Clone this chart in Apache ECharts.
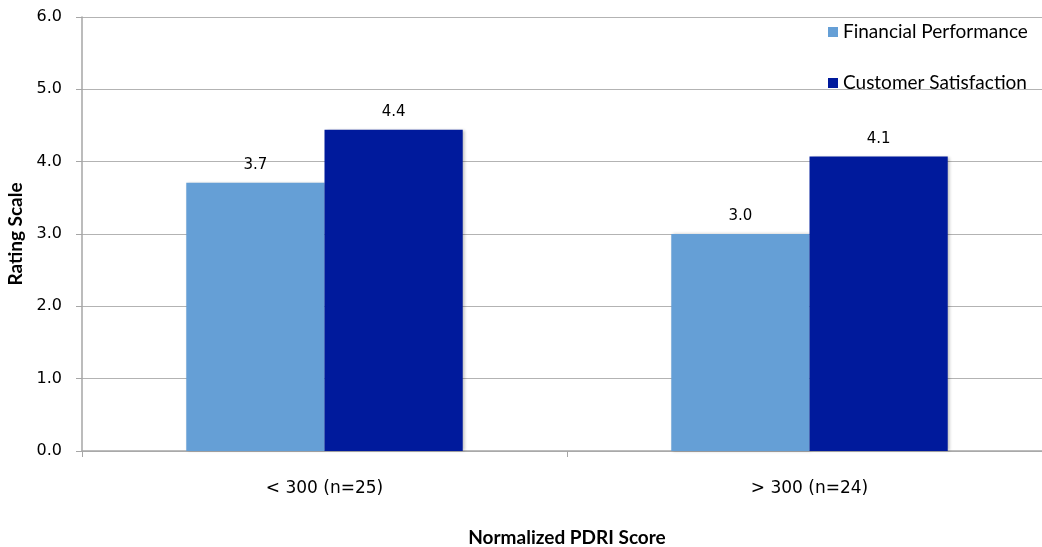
<!DOCTYPE html>
<html>
<head>
<meta charset="utf-8">
<script src="https://cdn.jsdelivr.net/npm/echarts@6/dist/echarts.min.js"></script>
<style>
  html, body { margin: 0; padding: 0; background: #fff; }
  #chart { width: 1042px; height: 547px; }
</style>
</head>
<body>
<div id="chart"></div>
<script>
// PDRI score groups and their mean ratings
const categories = ['< 300 (n=25)', '> 300 (n=24)'];
const seriesNames = ['Financial Performance', 'Customer Satisfaction'];
const financialPerformance = [3.71, 3.0];
const customerSatisfaction = [4.44, 4.07];
const yTicks = [0, 1, 2, 3, 4, 5, 6];

const colors = ['#659fd6', '#001a9c'];

const chart = echarts.init(document.getElementById('chart'), null, { renderer: 'canvas' });

const barStyle = (color) => ({
  color: color,
  shadowColor: 'rgba(0,0,0,0.25)',
  shadowBlur: 3,
  shadowOffsetX: 2,
  shadowOffsetY: 0
});

const valueLabel = {
  show: true,
  position: 'top',
  distance: 10,
  fontFamily: 'DejaVu Sans',
  fontSize: 15,
  color: '#000',
  formatter: (p) => p.value.toFixed(1)
};

chart.setOption({
  animation: false,
  backgroundColor: '#fff',
  grid: { left: 82, top: 17, width: 970, height: 434, outerBoundsMode: 'none', containLabel: false },
  legend: {
    orient: 'vertical',
    left: 823,
    top: 17,
    itemWidth: 10,
    itemHeight: 10,
    itemGap: 31,
    icon: 'rect',
    data: seriesNames,
    textStyle: { fontFamily: 'Lato', fontSize: 19, color: '#000', lineHeight: 20 }
  },
  xAxis: {
    type: 'category',
    data: categories,
    name: 'Normalized PDRI Score',
    nameLocation: 'middle',
    nameGap: 77,
    nameTextStyle: { fontFamily: 'Lato', fontWeight: 'bold', fontSize: 19, color: '#000' },
    axisLine: { lineStyle: { color: '#a6a6a6', width: 1.5 } },
    axisTick: { show: true, length: 6, lineStyle: { color: '#a6a6a6' } },
    axisLabel: { fontFamily: 'DejaVu Sans', fontSize: 17, color: '#000', margin: 29 }
  },
  yAxis: {
    type: 'value',
    min: yTicks[0],
    max: yTicks[yTicks.length - 1],
    interval: 1,
    name: 'Rating Scale',
    nameLocation: 'middle',
    nameGap: 55,
    nameRotate: 90,
    nameTextStyle: { fontFamily: 'Lato', fontWeight: 'bold', fontSize: 19, color: '#000' },
    axisLine: { show: true, lineStyle: { color: '#a6a6a6', width: 1.5 } },
    axisTick: { show: true, length: 6, lineStyle: { color: '#a6a6a6' } },
    splitLine: { lineStyle: { color: '#b3b3b3', width: 1.2 } },
    axisLabel: {
      fontFamily: 'DejaVu Sans', fontSize: 16, color: '#000', margin: 20,
      formatter: (v) => v.toFixed(1)
    }
  },
  series: [
    {
      name: seriesNames[0],
      type: 'bar',
      data: financialPerformance,
      barGap: '0%',
      barCategoryGap: '43%',
      itemStyle: barStyle(colors[0]),
      label: valueLabel
    },
    {
      name: seriesNames[1],
      type: 'bar',
      data: customerSatisfaction,
      barGap: '0%',
      barCategoryGap: '43%',
      itemStyle: barStyle(colors[1]),
      label: valueLabel
    }
  ]
});
</script>
</body>
</html>
